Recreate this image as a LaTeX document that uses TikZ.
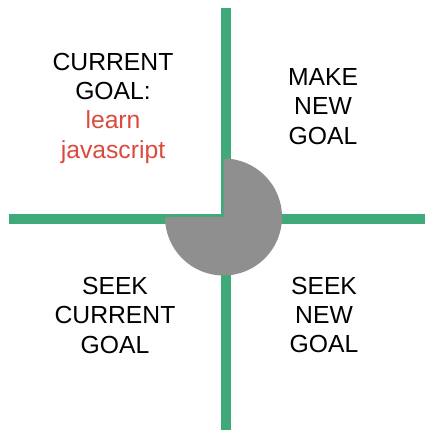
\documentclass[tikz,border=0pt]{standalone}
\usepackage{fontspec}
\setmainfont{Liberation Sans}
\definecolor{axisgreen}{HTML}{3FA97A}
\definecolor{hubgray}{HTML}{8F8F8F}
\definecolor{goalred}{HTML}{DB4A3E}
\tikzset{
    axis/.style={draw=axisgreen, line width=10pt},
    quadrant/.style={align=center, inner sep=0pt, font=\fontsize{24.7}{29.3}\selectfont}
}
\begin{document}
\begin{tikzpicture}[x=1pt, y=1pt]
    \useasboundingbox (0,0) rectangle (425,430);

    % axes
    \coordinate (top) at (226,421.7);
    \coordinate (bottom) at (226,0);
    \coordinate (left) at (9.3,210.7);
    \coordinate (right) at (425,210.7);
    \draw[axis] (top) -- (bottom);
    \draw[axis] (left) -- (right);

    % three-quarter disc in the middle
    \coordinate (hub) at (223.5,213);
    \fill[hubgray] (hub) -- ++(0,58.5) arc[start angle=90, end angle=-180, radius=58.5] -- cycle;

    \node[quadrant] (current) at (113,322) {CURRENT\\GOAL:\\\textcolor{goalred}{learn}\\\textcolor{goalred}{javascript}};
    \node[quadrant] (make) at (323,323.5) {MAKE\\NEW\\GOAL};
    \node[quadrant] (seekcurrent) at (115,114.8) {SEEK\\CURRENT\\GOAL};
    \node[quadrant] (seeknew) at (324,115) {SEEK\\NEW\\GOAL};
\end{tikzpicture}
\end{document}
